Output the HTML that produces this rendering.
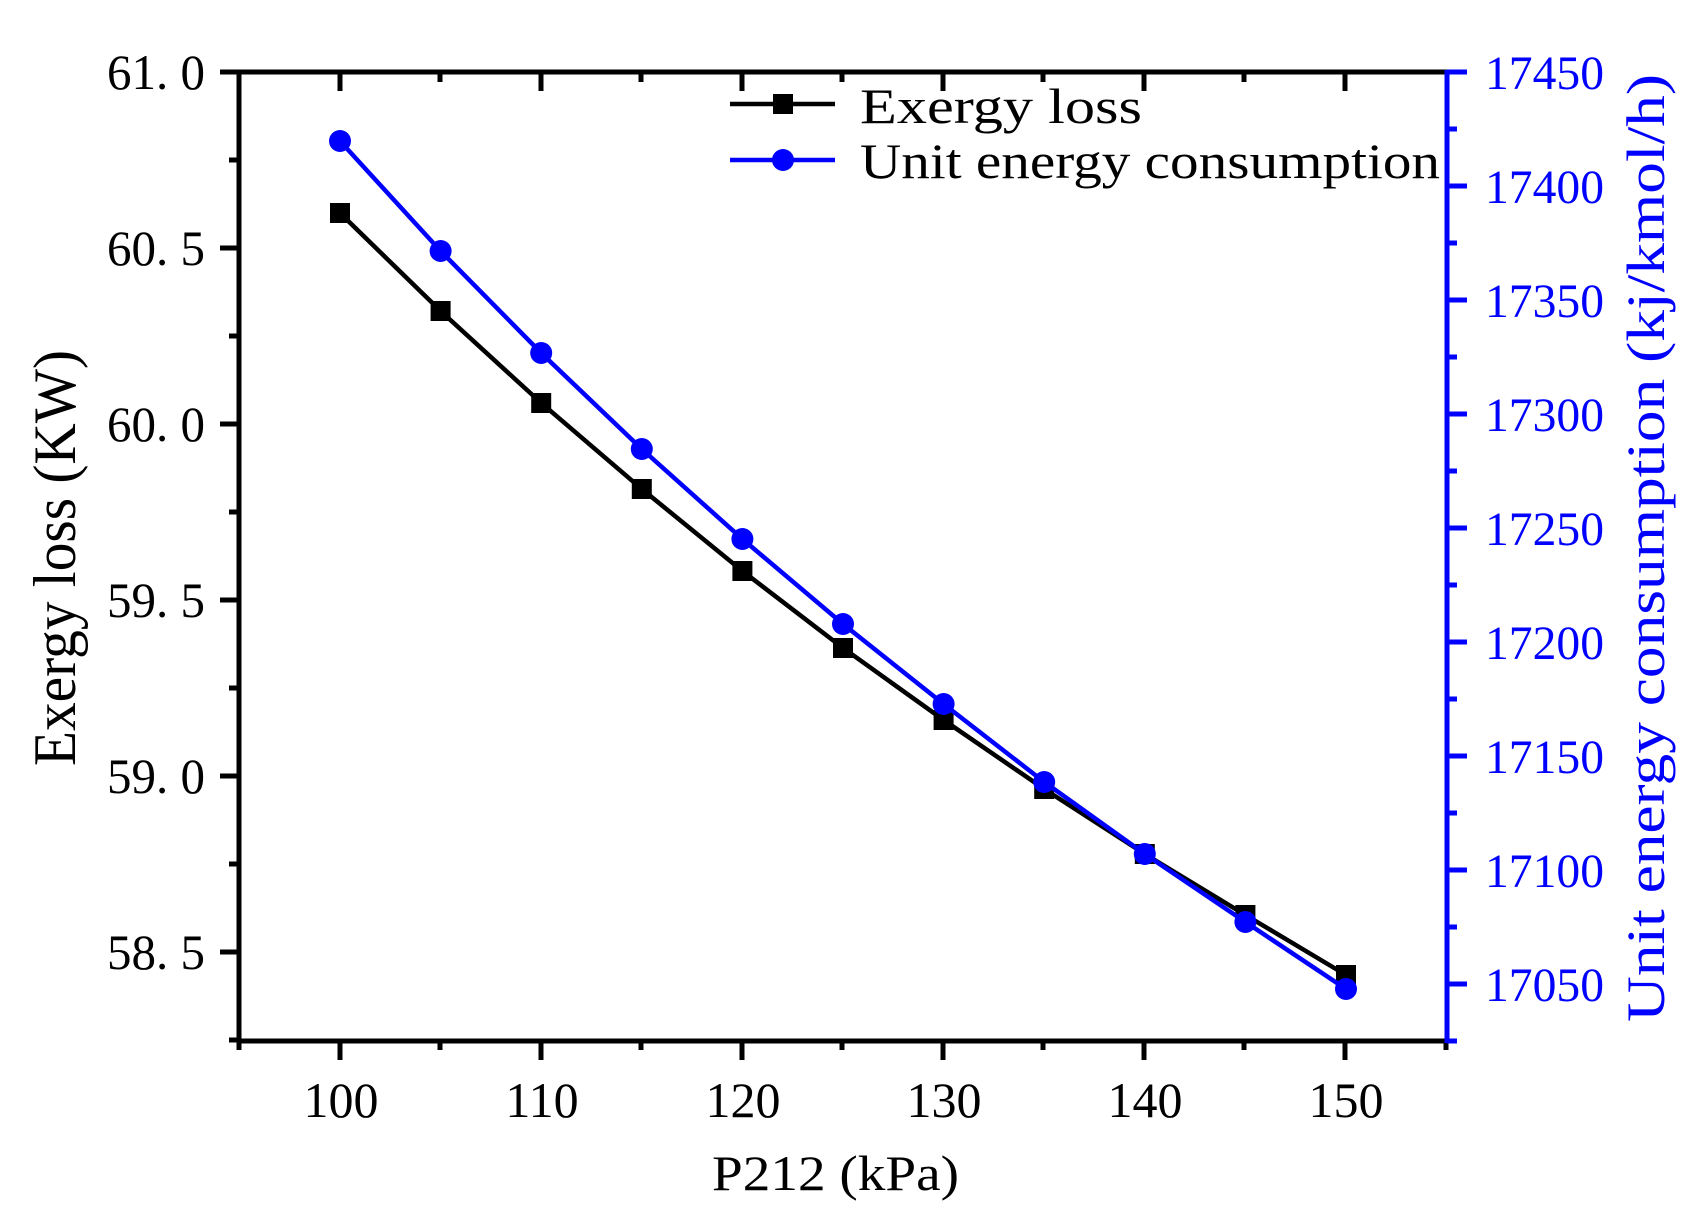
<!DOCTYPE html>
<html><head><meta charset="utf-8"><style>html,body{margin:0;padding:0;background:#fff}svg{display:block}</style></head>
<body>
<svg xmlns="http://www.w3.org/2000/svg" width="1704" height="1222" viewBox="0 0 1704 1222">
<rect width="1704" height="1222" fill="#fff"/>
<g stroke="#000" stroke-width="5" fill="none">
<line x1="239" y1="72" x2="1447" y2="72"/>
<line x1="239" y1="70" x2="239" y2="1043"/>
<line x1="237" y1="1041" x2="1447" y2="1041"/>
<path d="M239 72H220M239 248H220M239 424H220M239 600H220M239 776H220M239 952H220"/>
<path d="M239 160H229M239 336H229M239 512H229M239 688H229M239 864H229M239 1040H229"/>
<path d="M340 1041V1060M541 1041V1060M742 1041V1060M943 1041V1060M1144 1041V1060M1345 1041V1060"/>
<path d="M239 1041V1050M440 1041V1050M641 1041V1050M842 1041V1050M1043 1041V1050M1244 1041V1050M1446 1041V1050"/>
<path d="M340 72V91M541 72V91M742 72V91M943 72V91M1144 72V91M1345 72V91"/>
<path d="M440 72V82M641 72V82M842 72V82M1043 72V82M1244 72V82"/>
</g>
<g stroke="#0000ff" stroke-width="5" fill="none">
<line x1="1447" y1="70" x2="1447" y2="1043"/>
<path d="M1447 72H1467M1447 186H1467M1447 300H1467M1447 414H1467M1447 528H1467M1447 642H1467M1447 756H1467M1447 870H1467M1447 984H1467"/>
<path d="M1447 129H1457M1447 243H1457M1447 357H1457M1447 471H1457M1447 585H1457M1447 699H1457M1447 813H1457M1447 927H1457M1447 1041H1457"/>
</g>
<polyline fill="none" stroke="#000" stroke-width="4.5" points="340,213 440.6,311 541.2,403 641.8,489 742.4,571 843,648 943.6,720 1044.2,789 1144.8,854 1245.4,915 1346,975"/>
<g fill="#000">
<rect x="330" y="203" width="20" height="20"/><rect x="430.6" y="301" width="20" height="20"/><rect x="531.2" y="393" width="20" height="20"/><rect x="631.8" y="479" width="20" height="20"/><rect x="732.4" y="561" width="20" height="20"/><rect x="833" y="638" width="20" height="20"/><rect x="933.6" y="710" width="20" height="20"/><rect x="1034.2" y="779" width="20" height="20"/><rect x="1134.8" y="844" width="20" height="20"/><rect x="1235.4" y="905" width="20" height="20"/><rect x="1336" y="965" width="20" height="20"/>
</g>
<polyline fill="none" stroke="#0000ff" stroke-width="4.5" points="340,141 440.6,251 541.2,353 641.8,449 742.4,539 843,624 943.6,704 1044.2,782 1144.8,854 1245.4,922 1346,989"/>
<g fill="#0000ff">
<circle cx="340" cy="141" r="11"/><circle cx="440.6" cy="251" r="11"/><circle cx="541.2" cy="353" r="11"/><circle cx="641.8" cy="449" r="11"/><circle cx="742.4" cy="539" r="11"/><circle cx="843" cy="624" r="11"/><circle cx="943.6" cy="704" r="11"/><circle cx="1044.2" cy="782" r="11"/><circle cx="1144.8" cy="854" r="11"/><circle cx="1245.4" cy="922" r="11"/><circle cx="1346" cy="989" r="11"/>
</g>
<line x1="730" y1="104" x2="835" y2="104" stroke="#000" stroke-width="4.5"/>
<rect x="773" y="94" width="20" height="20" fill="#000"/>
<line x1="730" y1="160" x2="835" y2="160" stroke="#0000ff" stroke-width="4.5"/>
<circle cx="783" cy="160" r="11" fill="#0000ff"/>
<g font-family="Liberation Serif, serif" font-size="50" fill="#000">
<text x="860" y="123" textLength="282" lengthAdjust="spacingAndGlyphs">Exergy  loss</text>
<text x="860" y="178" textLength="580" lengthAdjust="spacingAndGlyphs">Unit  energy  consumption</text>
</g>
<g font-family="Liberation Serif, serif" font-size="50" fill="#000">
<text x="107" y="89" textLength="98" lengthAdjust="spacingAndGlyphs">61. 0</text>
<text x="107" y="265" textLength="98" lengthAdjust="spacingAndGlyphs">60. 5</text>
<text x="107" y="441" textLength="98" lengthAdjust="spacingAndGlyphs">60. 0</text>
<text x="107" y="617" textLength="98" lengthAdjust="spacingAndGlyphs">59. 5</text>
<text x="107" y="793" textLength="98" lengthAdjust="spacingAndGlyphs">59. 0</text>
<text x="107" y="969" textLength="98" lengthAdjust="spacingAndGlyphs">58. 5</text>
</g>
<g font-family="Liberation Serif, serif" font-size="50" fill="#000" text-anchor="middle">
<text x="341" y="1117">100</text><text x="542" y="1117">110</text><text x="743" y="1117">120</text><text x="944" y="1117">130</text><text x="1145" y="1117">140</text><text x="1346" y="1117">150</text>
</g>
<g font-family="Liberation Serif, serif" font-size="48" fill="#0000ff">
<text x="1485" y="89" textLength="119" lengthAdjust="spacingAndGlyphs">17450</text>
<text x="1485" y="203" textLength="119" lengthAdjust="spacingAndGlyphs">17400</text>
<text x="1485" y="317" textLength="119" lengthAdjust="spacingAndGlyphs">17350</text>
<text x="1485" y="431" textLength="119" lengthAdjust="spacingAndGlyphs">17300</text>
<text x="1485" y="545" textLength="119" lengthAdjust="spacingAndGlyphs">17250</text>
<text x="1485" y="659" textLength="119" lengthAdjust="spacingAndGlyphs">17200</text>
<text x="1485" y="773" textLength="119" lengthAdjust="spacingAndGlyphs">17150</text>
<text x="1485" y="887" textLength="119" lengthAdjust="spacingAndGlyphs">17100</text>
<text x="1485" y="1001" textLength="119" lengthAdjust="spacingAndGlyphs">17050</text>
</g>
<text x="712" y="1190" font-family="Liberation Serif, serif" font-size="50" textLength="247" lengthAdjust="spacingAndGlyphs" fill="#000">P212  (kPa)</text>
<text transform="translate(75,766) rotate(-90)" font-family="Liberation Serif, serif" font-size="60" textLength="416" lengthAdjust="spacingAndGlyphs" fill="#000">Exergy  loss  (KW)</text>
<text transform="translate(1664,1022) rotate(-90)" font-family="Liberation Serif, serif" font-size="54" textLength="948" lengthAdjust="spacingAndGlyphs" fill="#0000ff">Unit  energy  consumption  (kj/kmol/h)</text>
</svg>
</body></html>
